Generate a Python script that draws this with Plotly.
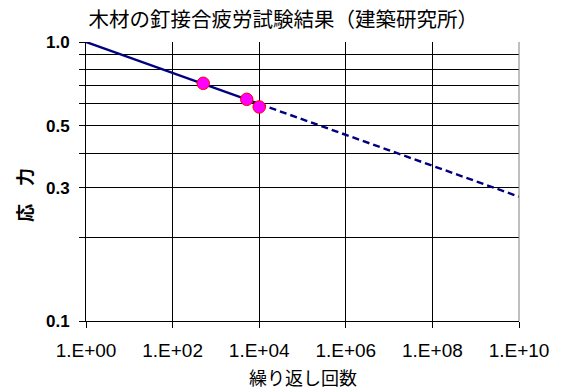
import plotly.graph_objects as go

# Data
cycles_pts = [510, 5150, 10000]
stress_pts = [0.711, 0.623, 0.585]

fit_solid_n = [1, 10000]
fit_solid_s = [1.0, 0.600]
fit_dash_n = [10000, 1e10]
fit_dash_s = [0.600, 0.279]

x_tickvals = [1, 1e2, 1e4, 1e6, 1e8, 1e10]
x_ticktext = ["1.E+00", "1.E+02", "1.E+04", "1.E+06", "1.E+08", "1.E+10"]
y_tickvals = [0.1, 0.2, 0.3, 0.4, 0.5, 0.6, 0.7, 0.8, 0.9, 1.0]
y_ticktext = ["0.1", "", "0.3", "", "0.5", "", "", "", "", "1.0"]

title_text = "木材の釘接合疲労試験結果（建築研究所）"
x_title = "繰り返し回数"
y_title = "応　力"

NAVY = "#000080"
jp_font = "Noto Sans CJK JP"
num_font = "Liberation Sans"

fig = go.Figure()
fig.add_trace(go.Scatter(x=fit_solid_n, y=fit_solid_s, mode="lines",
                         line=dict(color=NAVY, width=2.4), showlegend=False))
fig.add_trace(go.Scatter(x=fit_dash_n, y=fit_dash_s, mode="lines",
                         line=dict(color=NAVY, width=2.4, dash="7px,4px"), showlegend=False))
fig.add_trace(go.Scatter(x=cycles_pts, y=stress_pts, mode="markers",
                         marker=dict(color="#FF00FF", size=12.5,
                                     line=dict(color="#FF0000", width=1)),
                         showlegend=False))

fig.update_layout(
    width=570, height=389,
    margin=dict(l=86, r=51, t=42, b=68),
    paper_bgcolor="white", plot_bgcolor="white",
    title=dict(text=title_text, xref="container", x=0.497, xanchor="center",
               yref="container", y=1 - 20 / 389, yanchor="middle",
               font=dict(family=jp_font, size=20.5, color="black")),
    xaxis=dict(type="log", range=[0, 10], tickvals=x_tickvals, ticktext=x_ticktext,
               showgrid=True, gridcolor="black", gridwidth=1,
               ticks="outside", ticklen=6, tickcolor="black",
               showline=True, linecolor="black", linewidth=1,
               tickfont=dict(family=num_font, size=19, color="black"),
               ticklabelstandoff=6,
               zeroline=False, fixedrange=True),
    yaxis=dict(type="log", range=[-1, 0], tickvals=y_tickvals,
               ticktext=["<b>" + t + "</b>" if t else "" for t in y_ticktext],
               showgrid=True, gridcolor="black", gridwidth=1,
               ticks="outside", ticklen=6, tickcolor="black",
               showline=True, linecolor="black", linewidth=1,
               tickfont=dict(family=num_font, size=17, color="black"),
               ticklabelstandoff=6,
               zeroline=False, fixedrange=True),
)
# gray right border line
fig.add_shape(type="line", xref="paper", yref="paper", x0=1, x1=1, y0=0, y1=1,
              line=dict(color="#808080", width=1))

fig.add_annotation(text=x_title, xref="paper", yref="paper", x=0.5, y=-0.2,
                   xanchor="center", yanchor="middle", showarrow=False,
                   font=dict(family=jp_font, size=18, color="black"))
fig.add_annotation(text="<b>" + y_title + "</b>", xref="paper", yref="paper",
                   x=-0.143, y=0.452, xanchor="center", yanchor="middle",
                   textangle=-90, showarrow=False,
                   font=dict(family=jp_font, size=18, color="black"))

fig.write_html("out.html", config={"displayModeBar": False},
               post_script="document.body.style.margin='0';")
